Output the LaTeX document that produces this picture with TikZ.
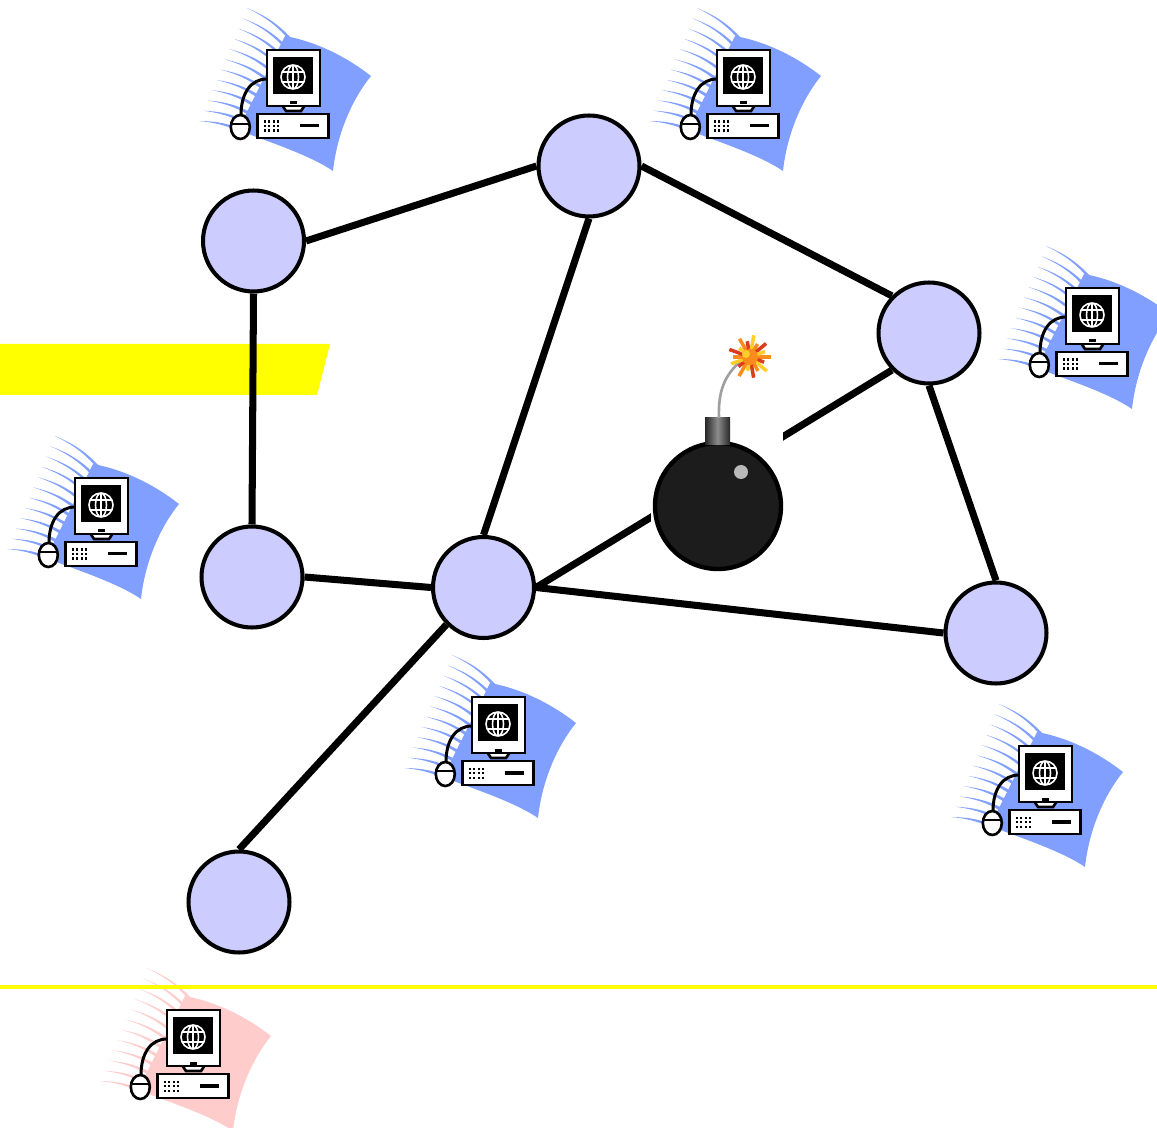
\documentclass[tikz,border=0pt]{standalone}
\usetikzlibrary{backgrounds}

\definecolor{nodefill}{HTML}{CCCCFF}
\definecolor{swooshblue}{HTML}{809FFF}
\definecolor{swooshpink}{HTML}{FFCCCC}
\definecolor{bombbody}{HTML}{1C1C1C}
\definecolor{marker}{RGB}{255,255,0}
\definecolor{sparkorange}{RGB}{250,140,30}
\definecolor{sparkyellow}{RGB}{255,205,40}
\definecolor{sparkred}{RGB}{220,60,30}

\tikzset{
  station/.style={circle, draw=black, line width=2.3pt, fill=nodefill,
                  minimum size=2.02cm, inner sep=0pt},
  link/.style={line width=4pt},
  pcline/.style={draw=black, line width=1.5pt, fill=white},
  % workstation clip art, #1 = colour of the swoosh behind it
  pics/computer/.style={code={
    % swoosh and its streaks
    \fill[#1] (-8,-42) .. controls (25,-36) and (55,-20) .. (78,-2)
      .. controls (60,20) and (44,55) .. (40,93)
      .. controls (15,76) and (-30,62) .. (-55,52) -- cycle;
    \foreach \i in {0,...,11}{
      \pgfmathsetmacro\sx{-46-48*\i/11}
      \pgfmathsetmacro\sy{-70+113*\i/11}
      \pgfmathsetmacro\ex{0-45*\i/11}
      \pgfmathsetmacro\ey{-38+92*\i/11}
      \fill[#1] (\sx,\sy) to[bend left=12] (\ex,\ey) -- ++(0,4.5) to[bend right=12] (\sx,\sy);
    }
    % mouse cable
    \draw[line width=1.7pt] (-52,37) .. controls (-52,15) and (-42,1) .. (-26,1);
    % monitor
    \filldraw[pcline] (-11,27) -- (-7,33) -- (8,33) -- (12,27) -- cycle;
    \filldraw[pcline] (-26,-28) rectangle (27,28);
    \fill[black] (-20,-21) rectangle (20,16);
    \fill[black] (-3,23.5) rectangle (3.5,26.5);
    \draw[white, line width=0.9pt] (0,-1) circle (12) (0,-1) ellipse (5.5 and 12)
      (0,-13) -- (0,11) (-10.9,-6) -- (10.9,-6) (-10.9,4) -- (10.9,4);
    % base unit
    \filldraw[pcline] (-35.5,36) rectangle (35.5,60);
    \foreach \c in {0,...,3}
      \foreach \r in {0,...,2}
        \fill[black] (-29.5+4.5*\c,42.5+4.5*\r) rectangle ++(2.2,2.2);
    \fill[black] (7,46) rectangle (26,49.5);
    % mouse
    \filldraw[pcline] (-52.7,49) ellipse (9.5 and 12);
    \draw[line width=1.2pt] (-61.5,46) -- (-44,46);
  }}
}

\begin{document}
\begin{tikzpicture}[x=0.02cm, y=-0.02cm]

    \useasboundingbox (0,0) rectangle (1157,1128);

    % Routers
    \node[station] (n1) at (253.5,241) {};
    \node[station] (n2) at (589,166) {};
    \node[station] (n3) at (929,333) {};
    \node[station] (n4) at (252,577) {};
    \node[station] (n5) at (483.5,587.5) {};
    \node[station] (n6) at (996,633) {};
    \node[station] (n7) at (239,902) {};

    \begin{pgfonlayer}{background}
    % Highlight bar
    \fill[marker] (0,344) -- (330,344) -- (317,395) -- (0,395) -- cycle;

    % Links between routers
    \draw[link] (n1.east) -- (n2.west);
    \draw[link] (n2.east) -- (n3.north west);
    \draw[link] (n1.south) -- (n4.north);
    \draw[link] (n2.south) -- (n5.north);
    \draw[link] (n4.east) -- (n5.west);
    \draw[link] (n5.east) -- (n6.west);
    \draw[link] (n3.south) -- (n6.north);
    \draw[link] (n5.south west) -- (n7.north);
    \draw[link] (n5.east) -- (n3.south west);
    \end{pgfonlayer}

    % Hosts
    \pic at (293,78) {computer=swooshblue};
    \pic at (743,78) {computer=swooshblue};
    \pic at (1092,316) {computer=swooshblue};
    \pic at (101,506) {computer=swooshblue};
    \pic at (498,725) {computer=swooshblue};
    \pic at (1045,774) {computer=swooshblue};
    \pic at (193,1038) {computer=swooshpink};

    % Bomb on the link
    \fill[white] (651,330) rectangle (783,572);
    \filldraw[fill=bombbody, draw=black, line width=2.5pt] (718,506) circle (63);
    \fill[gray!55] (741,472) circle (7);
    \shade[left color=black!85, right color=black!85, middle color=black!45] (705,418) rectangle (730,445);
    \draw[gray!75, line width=1.5pt] (719,418) .. controls (718,392) and (724,375) .. (742,360);
    \foreach \a/\l/\c in {0/21/sparkorange, 20/15/sparkred, 40/22/sparkyellow,
        60/16/sparkorange, 80/21/sparkred, 100/14/sparkyellow,
        120/22/sparkorange, 140/15/sparkred, 160/20/sparkyellow,
        180/17/sparkorange, 200/22/sparkred, 220/14/sparkyellow,
        240/21/sparkorange, 260/16/sparkred, 280/22/sparkyellow,
        300/15/sparkorange, 320/21/sparkred, 340/16/sparkyellow}
      \draw[\c, line width=2pt] (750,357) -- ++(\a:\l);
    \fill[sparkorange] (750,357) circle (8);
    \fill[sparkyellow] (746,354) circle (4);

    % Boundary line
    \draw[marker, line width=2.6pt] (0,987) -- (1157,987);

\end{tikzpicture}
\end{document}
